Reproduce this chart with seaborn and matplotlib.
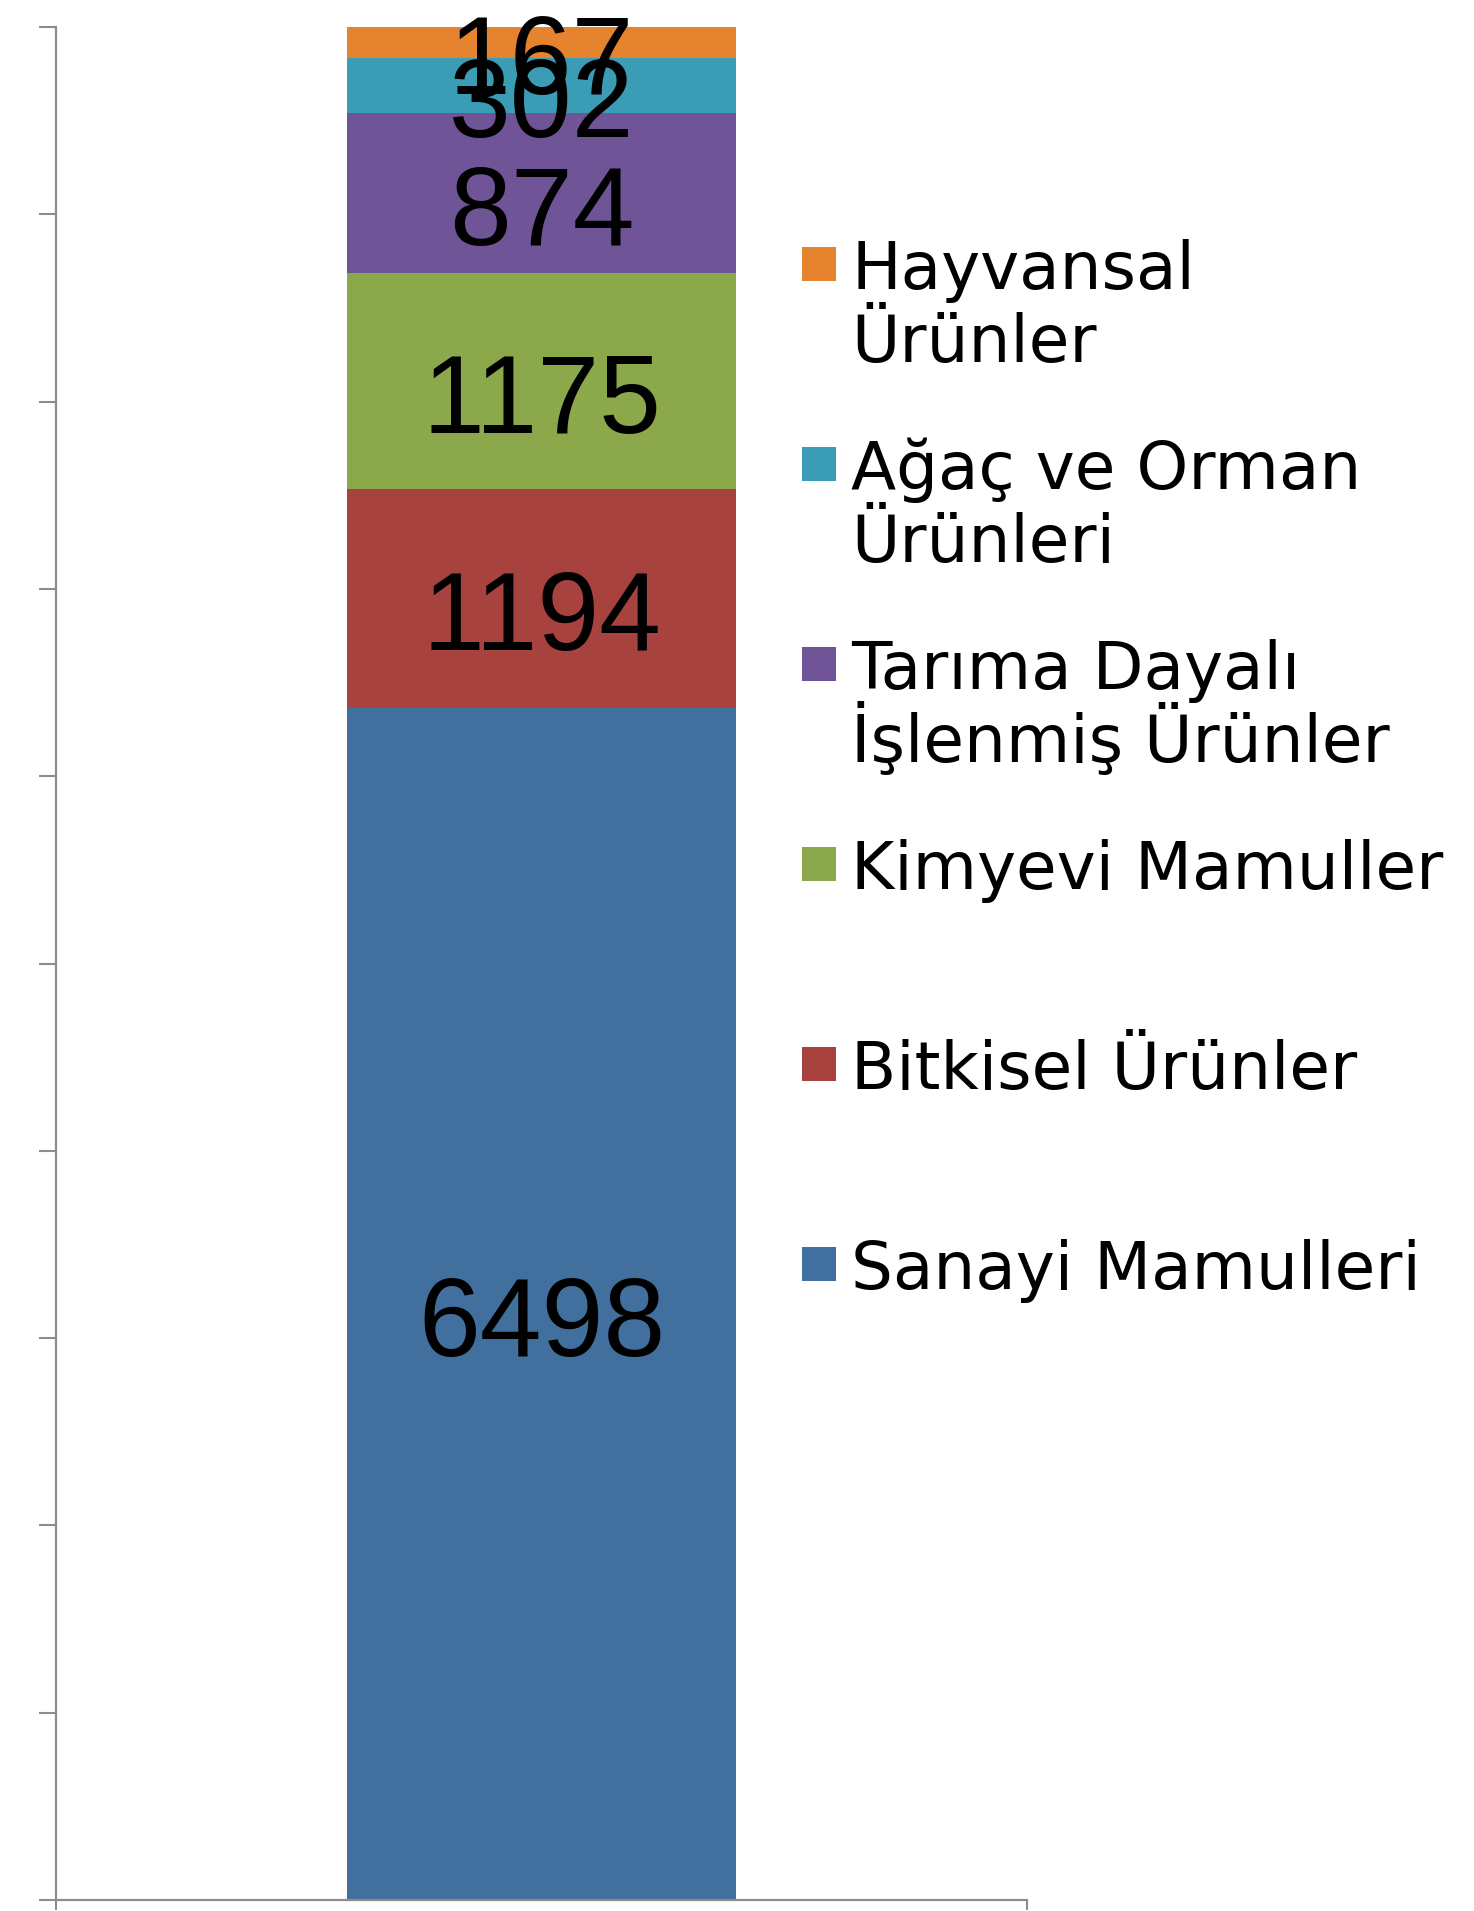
import numpy as np
import pandas as pd
import seaborn as sns
import matplotlib.pyplot as plt
from matplotlib.patches import Rectangle

# stack order from bottom to top
categories = ["Sanayi Mamulleri", "Bitkisel Ürünler", "Kimyevi Mamuller",
              "Tarıma Dayalı\nİşlenmiş Ürünler", "Ağaç ve Orman\nÜrünleri",
              "Hayvansal\nÜrünler"]
values = [6498, 1194, 1175, 874, 302, 167]
colors = ["#41709F", "#A8423F", "#8BA84A", "#6F5497", "#3A9DB5", "#E5832F"]

sns.set_style("white")
plt.rcParams['font.family'] = ['DejaVu Sans']

W, H = 1474, 1911
fig = plt.figure(figsize=(W / 100, H / 100), dpi=100)
ax = fig.add_axes([56 / W, 1 - 1900 / H, (1027 - 56) / W, (1900 - 27) / H])

df = pd.DataFrame({"cat": categories, "value": values})
df["top"] = df["value"].cumsum()
df["bottom"] = df["top"] - df["value"]
total = df["top"].iloc[-1]

# stacked bar: draw cumulative heights from the tallest down
for i in range(len(df) - 1, -1, -1):
    sns.barplot(x=[0], y=[df["top"].iloc[i]], color=colors[i], saturation=1,
                width=0.4, ax=ax, linewidth=0)

for _, r in df.iterrows():
    ax.annotate(str(r["value"]), (0, r["bottom"] + r["value"] / 2),
                xytext=(0, -52), textcoords="offset pixels",
                ha="center", va="baseline", fontsize=80,
                family=["Liberation Sans", "DejaVu Sans"], color="black")

ax.set_xlim(-0.5, 0.5)
ax.set_ylim(0, total)
ax.set_yticks(np.linspace(0, total, 11))
ax.set_yticklabels([])
ax.set_xticks([-0.5, 0.5])
ax.set_xticklabels([])
ax.set_xlabel("")
ax.set_ylabel("")
ax.tick_params(axis="y", direction="out", length=12, width=1.5, color="#8c8c8c", left=True)
ax.tick_params(axis="x", direction="out", length=7, width=1.5, color="#8c8c8c", bottom=True)
for s in ["top", "right"]:
    ax.spines[s].set_visible(False)
for s in ["left", "bottom"]:
    ax.spines[s].set_color("#8c8c8c")
    ax.spines[s].set_linewidth(1.6)

# legend, top entry first; marker sits next to the first line of each label
for k, i in enumerate(range(len(df) - 1, -1, -1)):
    base = 289 + k * 200
    fig.add_artist(Rectangle((802 / W, 1 - (base - 25 + 17) / H), 34 / W, 34 / H,
                             transform=fig.transFigure, color=colors[i], lw=0))
    for j, line in enumerate(categories[i].split("\n")):
        fig.text(851 / W, 1 - (base + j * 73) / H, line, fontsize=47.5,
                 va="baseline", ha="left", color="black")

fig.savefig("out.png", dpi=100)
